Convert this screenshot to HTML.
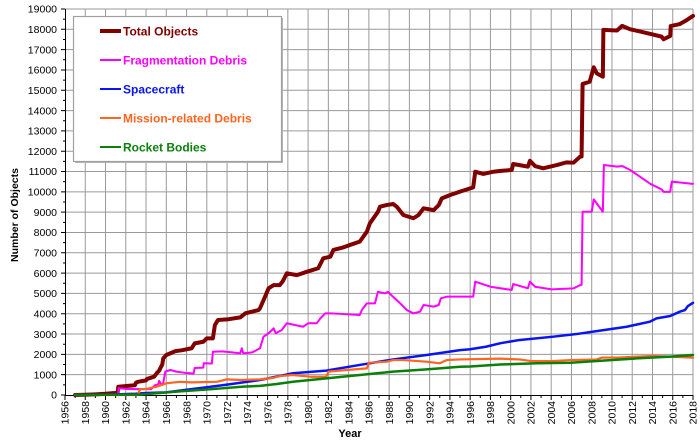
<!DOCTYPE html>
<html><head><meta charset="utf-8"><style>
html,body{margin:0;padding:0;background:#fff;}
svg{display:block;font-family:"Liberation Sans",Arial,sans-serif;}
.nss{vector-effect:non-scaling-stroke;}
</style></head><body>
<svg width="700" height="445" viewBox="0 0 700 445" xmlns="http://www.w3.org/2000/svg">
<rect x="0" y="0" width="700" height="445" fill="#fff"/>
<!-- grid in data coordinates -->
<g transform="translate(65,395) scale(10.129,-0.020316) translate(-1956,0)">
<path class="nss" fill="none" stroke="#9a9a9a" stroke-width="1" d="M1958,0V19000M1960,0V19000M1962,0V19000M1964,0V19000M1966,0V19000M1968,0V19000M1970,0V19000M1972,0V19000M1974,0V19000M1976,0V19000M1978,0V19000M1980,0V19000M1982,0V19000M1984,0V19000M1986,0V19000M1988,0V19000M1990,0V19000M1992,0V19000M1994,0V19000M1996,0V19000M1998,0V19000M2000,0V19000M2002,0V19000M2004,0V19000M2006,0V19000M2008,0V19000M2010,0V19000M2012,0V19000M2014,0V19000M2016,0V19000M2018,0V19000
M1956,1000H2018M1956,2000H2018M1956,3000H2018M1956,4000H2018M1956,5000H2018M1956,6000H2018M1956,7000H2018M1956,8000H2018M1956,9000H2018M1956,10000H2018M1956,11000H2018M1956,12000H2018M1956,13000H2018M1956,14000H2018M1956,15000H2018M1956,16000H2018M1956,17000H2018M1956,18000H2018M1956,19000H2018"/>
</g>
<!-- y ticks -->
<g transform="translate(0,395) scale(1,-0.020316)">
<path class="nss" fill="none" stroke="#000" stroke-width="1" d="M61,0H65M61,1000H65M61,2000H65M61,3000H65M61,4000H65M61,5000H65M61,6000H65M61,7000H65M61,8000H65M61,9000H65M61,10000H65M61,11000H65M61,12000H65M61,13000H65M61,14000H65M61,15000H65M61,16000H65M61,17000H65M61,18000H65M61,19000H65
M63,500H65M63,1500H65M63,2500H65M63,3500H65M63,4500H65M63,5500H65M63,6500H65M63,7500H65M63,8500H65M63,9500H65M63,10500H65M63,11500H65M63,12500H65M63,13500H65M63,14500H65M63,15500H65M63,16500H65M63,17500H65M63,18500H65"/>
</g>
<!-- x ticks -->
<g transform="translate(65,0) scale(10.129,1) translate(-1956,0)">
<path class="nss" fill="none" stroke="#000" stroke-width="1" d="M1956,395V400M1958,395V400M1960,395V400M1962,395V400M1964,395V400M1966,395V400M1968,395V400M1970,395V400M1972,395V400M1974,395V400M1976,395V400M1978,395V400M1980,395V400M1982,395V400M1984,395V400M1986,395V400M1988,395V400M1990,395V400M1992,395V400M1994,395V400M1996,395V400M1998,395V400M2000,395V400M2002,395V400M2004,395V400M2006,395V400M2008,395V400M2010,395V400M2012,395V400M2014,395V400M2016,395V400M2018,395V400
M1957,395V398M1959,395V398M1961,395V398M1963,395V398M1965,395V398M1967,395V398M1969,395V398M1971,395V398M1973,395V398M1975,395V398M1977,395V398M1979,395V398M1981,395V398M1983,395V398M1985,395V398M1987,395V398M1989,395V398M1991,395V398M1993,395V398M1995,395V398M1997,395V398M1999,395V398M2001,395V398M2003,395V398M2005,395V398M2007,395V398M2009,395V398M2011,395V398M2013,395V398M2015,395V398M2017,395V398"/>
</g>
<!-- axes -->
<path d="M65.5,9V395.5H693" fill="none" stroke="#000" stroke-width="1"/>

<!-- series -->
<g transform="translate(65,395) scale(10.129,-0.020316) translate(-1956,0)" fill="none" stroke-linejoin="round" stroke-linecap="round">
<polyline class="nss" stroke="#800000" stroke-width="4" points="1957,0 1958,10 1959,30 1960,60 1960.9,100 1961.2,120 1961.26,408 1961.8,430 1962.2,450 1962.9,480 1963.0,600 1963.2,650 1964.0,720 1964.1,790 1964.8,900 1965.05,1070 1965.3,1200 1965.4,1310 1965.6,1500 1965.7,1800 1966.0,1970 1966.9,2160 1967.5,2200 1968.5,2300 1968.8,2540 1969.65,2620 1970.0,2790 1970.6,2790 1970.8,3445 1971.1,3690 1972,3720 1973.3,3820 1973.8,4020 1975.1,4180 1975.25,4270 1975.75,4840 1976.1,5250 1976.6,5410 1977.2,5410 1977.5,5600 1977.9,5990 1978.9,5900 1979.9,6070 1981.0,6240 1981.5,6730 1982.2,6810 1982.5,7140 1983.5,7270 1984.1,7380 1985.1,7550 1985.8,8040 1986.1,8450 1986.9,9020 1987.1,9270 1987.75,9350 1988.4,9400 1988.75,9270 1989.4,8860 1990.4,8700 1990.9,8860 1991.4,9190 1992.4,9100 1992.9,9350 1993.2,9680 1994.0,9840 1995.0,10010 1996.0,10170 1996.3,10220 1996.5,10990 1997.3,10880 1998.3,10990 1999.0,11030 2000.1,11075 2000.25,11370 2001.7,11240 2001.9,11530 2002.4,11270 2003.2,11160 2004.55,11320 2005.5,11450 2006.2,11435 2006.85,11730 2007.0,11740 2007.1,15310 2007.8,15420 2008.2,16130 2008.5,15830 2009.1,15670 2009.15,17970 2010.5,17940 2011.0,18170 2011.8,18000 2012.8,17890 2013.8,17770 2014.9,17640 2015.1,17510 2015.75,17670 2015.8,18160 2016.7,18260 2017.4,18460 2018,18660"/>
<polyline class="nss" stroke="#ff00ff" stroke-width="2" points="1961.26,80 1961.3,330 1962,300 1963,290 1964.5,290 1964.9,490 1965.2,520 1965.3,700 1965.5,500 1965.7,600 1965.9,1150 1966.4,1230 1967.0,1150 1968.0,1080 1968.7,1060 1968.8,1330 1969.65,1350 1969.7,1560 1970.5,1550 1970.6,2130 1971.5,2150 1972.5,2100 1973.3,2050 1973.45,2300 1973.6,2050 1974.5,2100 1975.25,2300 1975.6,2870 1976.1,3040 1976.6,3280 1976.8,3040 1977.4,3200 1977.9,3530 1979.5,3360 1980.0,3530 1980.85,3530 1981.2,3770 1981.7,4020 1982.3,4020 1983.3,3990 1985.1,3940 1985.3,4180 1985.8,4510 1986.6,4510 1986.9,5080 1987.6,5000 1987.9,5080 1988.2,4920 1989.1,4510 1989.75,4180 1990.4,4020 1991.05,4100 1991.4,4430 1992.4,4350 1992.9,4430 1993.1,4760 1993.7,4840 1996.3,4840 1996.5,5580 1998.0,5330 2000.1,5170 2000.25,5460 2001.7,5250 2001.9,5580 2002.4,5330 2004.05,5200 2006.2,5250 2006.85,5410 2007.0,5420 2007.1,9020 2008.0,9020 2008.2,9630 2009.1,9020 2009.2,11320 2010.5,11240 2011.0,11270 2011.8,11075 2013.8,10390 2014.9,10120 2015.1,10000 2015.75,10000 2015.9,10500 2018,10390"/>
<polyline class="nss" stroke="#0a14f0" stroke-width="2.5" points="1957,0 1960,20 1963,60 1964,100 1966,130 1968,260 1970,380 1972,510 1974,650 1975.25,740 1978.5,1070 1981.8,1200 1985.1,1480 1988.4,1750 1991.7,1970 1995.0,2210 1996,2250 1997.6,2380 1999,2550 2000.9,2710 2004.2,2870 2006.5,3000 2008.15,3120 2011.45,3360 2013.75,3610 2014.4,3770 2015.75,3890 2016.7,4100 2017.2,4180 2017.5,4380 2018,4540"/>
<polyline class="nss" stroke="#ff6420" stroke-width="2.2" points="1957,0 1963.2,0 1963.4,280 1964,300 1965.05,410 1966.0,575 1967.35,650 1968.5,620 1970,640 1971,650 1972.0,770 1973.3,740 1975.25,770 1976.6,850 1977.2,935 1978.5,985 1980.2,900 1981.8,900 1982.0,1150 1983.8,1230 1985.8,1310 1986.0,1590 1987.75,1640 1988.4,1720 1989.4,1720 1991.7,1640 1993.0,1560 1993.7,1720 1995.0,1750 1998.95,1790 2000.9,1750 2002.0,1670 2004.05,1670 2005.9,1720 2008.5,1750 2009.0,1840 2010.8,1850 2014.1,1920 2015.8,1890 2018,1840"/>
<polyline class="nss" stroke="#0a800a" stroke-width="2.5" points="1957,0 1963.5,20 1964,40 1967,165 1970.3,280 1973.6,410 1975.25,450 1976.9,540 1978.5,650 1981.8,820 1985.1,985 1988.4,1150 1991.7,1260 1995.0,1390 1996,1400 1998.95,1500 2002.6,1560 2005.9,1590 2009.1,1690 2012.4,1800 2015.8,1890 2018,1970"/>
</g>

<!-- y labels -->
<g font-size="10.5" fill="#000" text-anchor="end">
<text x="57" y="398.7">0</text>
<text x="57" y="378.4">1000</text>
<text x="57" y="358.1">2000</text>
<text x="57" y="337.8">3000</text>
<text x="57" y="317.4">4000</text>
<text x="57" y="297.1">5000</text>
<text x="57" y="276.8">6000</text>
<text x="57" y="256.5">7000</text>
<text x="57" y="236.2">8000</text>
<text x="57" y="215.9">9000</text>
<text x="57" y="195.5">10000</text>
<text x="57" y="175.2">11000</text>
<text x="57" y="154.9">12000</text>
<text x="57" y="134.6">13000</text>
<text x="57" y="114.3">14000</text>
<text x="57" y="94.0">15000</text>
<text x="57" y="73.6">16000</text>
<text x="57" y="53.3">17000</text>
<text x="57" y="33.0">18000</text>
<text x="57" y="12.7">19000</text>
</g>
<!-- x labels -->
<g font-size="10.5" fill="#000" text-anchor="end">
<text transform="translate(68.7,401) rotate(-90)">1956</text>
<text transform="translate(89.0,401) rotate(-90)">1958</text>
<text transform="translate(109.2,401) rotate(-90)">1960</text>
<text transform="translate(129.5,401) rotate(-90)">1962</text>
<text transform="translate(149.7,401) rotate(-90)">1964</text>
<text transform="translate(170.0,401) rotate(-90)">1966</text>
<text transform="translate(190.3,401) rotate(-90)">1968</text>
<text transform="translate(210.5,401) rotate(-90)">1970</text>
<text transform="translate(230.8,401) rotate(-90)">1972</text>
<text transform="translate(251.0,401) rotate(-90)">1974</text>
<text transform="translate(271.3,401) rotate(-90)">1976</text>
<text transform="translate(291.5,401) rotate(-90)">1978</text>
<text transform="translate(311.8,401) rotate(-90)">1980</text>
<text transform="translate(332.1,401) rotate(-90)">1982</text>
<text transform="translate(352.3,401) rotate(-90)">1984</text>
<text transform="translate(372.6,401) rotate(-90)">1986</text>
<text transform="translate(392.8,401) rotate(-90)">1988</text>
<text transform="translate(413.1,401) rotate(-90)">1990</text>
<text transform="translate(433.3,401) rotate(-90)">1992</text>
<text transform="translate(453.6,401) rotate(-90)">1994</text>
<text transform="translate(473.9,401) rotate(-90)">1996</text>
<text transform="translate(494.1,401) rotate(-90)">1998</text>
<text transform="translate(514.4,401) rotate(-90)">2000</text>
<text transform="translate(534.6,401) rotate(-90)">2002</text>
<text transform="translate(554.9,401) rotate(-90)">2004</text>
<text transform="translate(575.2,401) rotate(-90)">2006</text>
<text transform="translate(595.4,401) rotate(-90)">2008</text>
<text transform="translate(615.7,401) rotate(-90)">2010</text>
<text transform="translate(635.9,401) rotate(-90)">2012</text>
<text transform="translate(656.2,401) rotate(-90)">2014</text>
<text transform="translate(676.4,401) rotate(-90)">2016</text>
<text transform="translate(696.7,401) rotate(-90)">2018</text>
</g>
<!-- axis titles -->
<text x="350" y="437" font-size="11" font-weight="bold" text-anchor="middle">Year</text>
<text transform="translate(18,215) rotate(-90)" font-size="10.5" font-weight="bold" text-anchor="middle">Number of Objects</text>

<!-- legend -->
<rect x="75" y="18" width="208" height="145" fill="#b4b4b4"/>
<rect x="73.5" y="16.5" width="208" height="145" fill="#fff" stroke="#a0a0a0" stroke-width="1.2"/>
<g font-size="12" font-weight="bold">
<line x1="100" y1="31" x2="121" y2="31" stroke="#800000" stroke-width="4"/>
<text x="123" y="35.3" fill="#800000">Total Objects</text>
<line x1="100" y1="60" x2="121" y2="60" stroke="#ff00ff" stroke-width="2"/>
<text x="123" y="64.3" fill="#ff00ff">Fragmentation Debris</text>
<line x1="100" y1="89" x2="121" y2="89" stroke="#0a14f0" stroke-width="2"/>
<text x="123" y="93.3" fill="#0a14f0">Spacecraft</text>
<line x1="100" y1="118" x2="121" y2="118" stroke="#ff6420" stroke-width="2"/>
<text x="123" y="122.3" fill="#ff6420">Mission-related Debris</text>
<line x1="100" y1="147" x2="121" y2="147" stroke="#0a800a" stroke-width="2"/>
<text x="123" y="151.3" fill="#0a800a">Rocket Bodies</text>
</g>
</svg>
</body></html>
